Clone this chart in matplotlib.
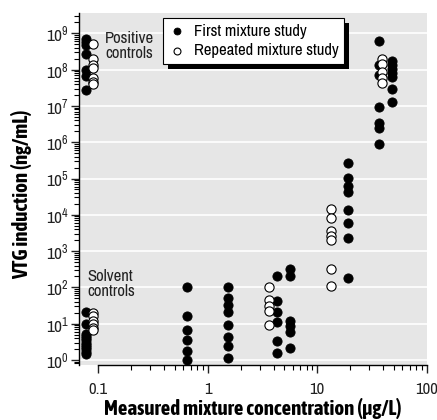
import matplotlib
matplotlib.use('Agg')
import matplotlib.pyplot as plt
import matplotlib.patheffects as pe
import numpy as np
from matplotlib.ticker import LogLocator, FixedLocator, NullFormatter

# narrow sans, falls back to DejaVu if missing
plt.rcParams['font.family'] = ['Archivo Narrow', 'Roboto Condensed', 'DejaVu Sans']
plt.rcParams['mathtext.fontset'] = 'custom'
plt.rcParams['mathtext.rm'] = 'Archivo Narrow'
plt.rcParams['mathtext.default'] = 'regular'
bold_fam = ['Asap Condensed', 'Barlow Semi Condensed', 'DejaVu Sans']

# first mixture study (filled)
first_x = [0.078]*7 + [0.078]*12 + [0.65]*6 + [1.54]*8 + [4.3]*6 + [5.7]*6 \
    + [19.1]*8 + [36.5]*7 + [48]*7
first_y = [7.2e8, 5.9e8, 4.8e8, 2.7e8, 9.5e7, 6.5e7, 2.7e7,
           21, 10, 5.3, 4.6, 4.0, 3.5, 3.0, 2.6, 2.3, 2.0, 1.7, 1.5,
           105, 16, 6.7, 3.6, 1.8, 1.0,
           102, 52, 32, 21, 9.4, 4.4, 2.4, 1.15,
           206, 41, 21, 10.8, 3.4, 1.6,
           320, 206, 11.8, 8.4, 5.9, 2.1,
           2.6e5, 1.06e5, 6.2e4, 4.3e4, 1.35e4, 6000, 2240, 178,
           6.3e8, 1.37e8, 6.9e7, 9.1e6, 3.3e6, 2.5e6, 8.9e5,
           1.74e8, 1.36e8, 1.05e8, 8.1e7, 6.3e7, 2.95e7, 1.29e7]

# repeated mixture study (open)
rep_x = [0.09]*7 + [0.09]*6 + [3.64]*5 + [13.4]*7 + [39]*5
rep_y = [5.0e8, 2.0e8, 1.35e8, 1.1e8, 5.7e7, 4.7e7, 4.0e7,
         20, 16, 12, 9.5, 7.5, 6.5,
         102, 45, 31, 22, 9.2,
         1.47e4, 8000, 3500, 2600, 2000, 320, 110,
         2.0e8, 1.4e8, 8.7e7, 5.7e7, 4.3e7]

xticks = [0.1, 1, 10, 100]
xticklabels = ['0.1', '1', '10', '100']

fig = plt.figure(figsize=(4.37, 4.20), dpi=100)
ax = fig.add_axes([0.1808, 0.131, 0.7963, 0.838])
ax.set_facecolor('#e6e6e6')
ax.set_xscale('log')
ax.set_yscale('log')
ax.set_xlim(0.067, 100.5)
ax.set_ylim(10**-0.138, 10**9.56)

ax.grid(True, which='major', axis='y', color='white', lw=1.2)
ax.set_axisbelow(True)

ax.scatter(first_x, first_y, s=44, c='black', edgecolors='black', lw=0.6,
           zorder=3, label='First mixture study')
ax.scatter(rep_x, rep_y, s=44, c='white', edgecolors='black', lw=0.8,
           zorder=4, label='Repeated mixture study')

for s in ['top', 'right']:
    ax.spines[s].set_visible(False)
ax.spines['bottom'].set_bounds(0.1, 100)
ax.spines['bottom'].set_linewidth(1.0)
ax.spines['left'].set_linewidth(1.0)

ax.set_xticks(xticks)
ax.set_xticklabels(xticklabels)
minors = [m * 10.0**e for e in (-1, 0, 1) for m in range(2, 10)]
ax.xaxis.set_minor_locator(FixedLocator(minors))
ax.xaxis.set_minor_formatter(NullFormatter())
ax.yaxis.set_major_locator(LogLocator(base=10, numticks=20))
ax.yaxis.set_minor_locator(LogLocator(base=10, subs=np.arange(2, 10), numticks=20))
ax.yaxis.set_minor_formatter(NullFormatter())
ax.tick_params(which='major', direction='out', length=6, width=1, labelsize=12.5, colors='#222222')
ax.tick_params(axis='x', which='major', pad=6, labelsize=12)
ax.tick_params(axis='y', which='major', pad=1)
ax.tick_params(which='minor', direction='out', length=3.5, width=0.8)

ax.set_xlabel('Measured mixture concentration (μg/L)', fontsize=15, fontweight='bold',
              family=bold_fam, labelpad=1)
ax.set_ylabel('VTG induction (ng/mL)', fontsize=15, fontweight='bold',
              family=bold_fam)
ax.yaxis.set_label_coords(-0.135, 0.484)

ax.text(0.075, 0.906, 'Positive\ncontrols', transform=ax.transAxes, fontsize=12,
        va='center', ha='left', linespacing=1.0, color='#222222')
ax.text(0.023, 0.23, 'Solvent\ncontrols', transform=ax.transAxes, fontsize=12,
        va='center', ha='left', linespacing=1.0, color='#222222')

leg = ax.legend(loc='upper left', bbox_to_anchor=(0.241, 0.986), borderaxespad=0,
                fancybox=False, edgecolor='black', framealpha=1, fontsize=12,
                handletextpad=0.5, borderpad=0.35, labelspacing=0.25,
                handlelength=1.0, markerscale=0.75)
leg.get_frame().set_linewidth(0.8)
leg.get_frame().set_path_effects([
    pe.SimplePatchShadow(offset=(3.5, -3.5), shadow_rgbFace='black', alpha=1),
    pe.Normal()])

fig.savefig('out.png', dpi=100)
